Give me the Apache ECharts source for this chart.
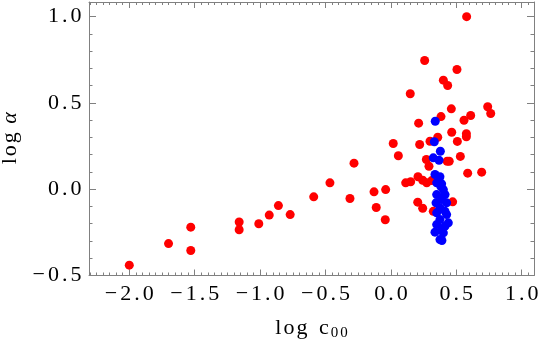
<!DOCTYPE html>
<html><head><meta charset="utf-8">
<script src="https://cdn.jsdelivr.net/npm/echarts@6/dist/echarts.min.js"></script>
<style>html,body{margin:0;padding:0;background:#fff}#c{width:540px;height:345px}</style>
</head><body><div id="c"></div>
<script>
// x = log c00, y = log alpha
const redX = [-2.00,-1.70,-1.53,-1.53,-1.16,-1.16,-1.01,-0.93,-0.86,-0.77,-0.59,-0.466,-0.282,-0.313,-0.129,-0.04,-0.112,-0.043,0.018,0.057,0.113,0.151,0.207,0.243,0.274,0.205,0.243,0.22,0.271,0.291,0.299,0.358,0.465,0.577,0.577,0.508,0.43,0.446,0.531,0.587,0.694,0.472,0.579,0.258,0.505,0.401,0.434,0.148,0.462,0.740,0.763,0.383,0.61,0.559,0.212,0.324,0.312];
const redY = [-0.44,-0.315,-0.22,-0.355,-0.19,-0.235,-0.20,-0.15,-0.095,-0.147,-0.044,0.037,0.151,-0.054,-0.015,-0.002,-0.106,-0.177,0.265,0.194,0.037,0.043,0.072,0.052,0.037,-0.075,-0.11,0.259,0.172,0.133,0.278,0.301,0.33,0.322,0.304,0.277,0.162,0.162,0.19,0.093,0.099,-0.073,1.0,0.746,0.694,0.632,0.601,0.553,0.466,0.478,0.439,0.421,0.427,0.40,0.383,-0.128,0.05];
const blueX = [0.339,0.332,0.378,0.324,0.368,0.337,0.375,0.388,0.350,0.381,0.401,0.350,0.414,0.388,0.345,0.426,0.375,0.414,0.350,0.426,0.375,0.439,0.350,0.414,0.388,0.337,0.401,0.375,0.39];
const blueY = [0.394,0.275,0.22,0.182,0.168,0.085,0.072,0.031,0.037,0.017,-0.002,-0.031,-0.031,-0.06,-0.079,-0.079,-0.108,-0.128,-0.137,-0.147,-0.176,-0.195,-0.205,-0.214,-0.234,-0.249,-0.253,-0.292,-0.297];
const xTickLabels = [-2.0,-1.5,-1.0,-0.5,0.0,0.5,1.0];
const yTickLabels = [-0.5,0.0,0.5,1.0];

const X_MIN = -2.308, X_MAX = 1.094, Y_MIN = -0.5, Y_MAX = 1.085;
function range(a, b, step) { const r = []; for (let v = a; v <= b + 1e-9; v += step) r.push(Math.round(v * 1000) / 1000); return r; }
const xMinor = range(-2.3, 1.05, 0.05).filter(v => !xTickLabels.some(m => Math.abs(m - v) < 1e-6));
const yMinor = range(-0.5, 1.0, 0.1).filter(v => !yTickLabels.some(m => Math.abs(m - v) < 1e-6));

const FRAME = '#808080';
const FONT = 'Liberation Serif';
const FS = 22;
function spaced(s, key) { return s.split('').map(c => c === ' ' ? '{sp| }' : '{' + key + '|' + c + '}').join(''); }
function fmt(v) { const s = (v < 0 ? '\u2212' : '') + Math.abs(v).toFixed(1); return spaced(s, 'd'); }
const digitRich = { d: { fontFamily: FONT, fontSize: FS, color: '#000', padding: [0, 1.5, 0, 1.5] } };

function axis(kind, pos, ticks, len, showLine, labels, extra) {
  const a = {
    type: 'value', position: pos, min: kind === 'x' ? X_MIN : Y_MIN, max: kind === 'x' ? X_MAX : Y_MAX,
    axisLine: { show: showLine, onZero: false, lineStyle: { color: FRAME, width: 1 } },
    axisTick: { show: true, inside: true, length: len, customValues: ticks, lineStyle: { color: FRAME, width: 1 } },
    axisLabel: labels ? { show: true, customValues: labels, formatter: fmt, rich: digitRich, margin: kind === 'x' ? 8 : 6 } : { show: false },
    splitLine: { show: false }
  };
  return Object.assign(a, extra || {});
}

const option = {
  animation: false,
  backgroundColor: '#fff',
  grid: { left: 89, right: 6, top: 2, bottom: 69.5, containLabel: false, outerBoundsMode: 'none' },
  xAxis: [
    axis('x', 'bottom', xTickLabels, 6, true, xTickLabels, {
      name: spaced('log c', 'a') + '{b|0}{b|0}', nameLocation: 'middle', nameGap: 40,
      nameTextStyle: { rich: {
        a: { fontFamily: FONT, fontSize: FS, color: '#000', padding: [0, 1, 0, 1] },
        sp: { fontFamily: FONT, fontSize: FS, padding: [0, 2, 0, 2] },
        b: { fontFamily: FONT, fontSize: 15, color: '#000', verticalAlign: 'bottom', padding: [10, 1, 0, 1] } } }
    }),
    axis('x', 'bottom', xMinor, 3, false, null),
    axis('x', 'top', xTickLabels, 6, true, null),
    axis('x', 'top', xMinor, 3, false, null)
  ],
  yAxis: [
    axis('y', 'left', yTickLabels, 7, true, yTickLabels, {
      name: spaced('log ', 'a') + '{i|\u03b1}', nameLocation: 'middle', nameGap: 65, nameRotate: 90,
      nameTextStyle: { rich: {
        a: { fontFamily: FONT, fontSize: FS, color: '#000', padding: [0, 1, 0, 1] },
        sp: { fontFamily: FONT, fontSize: FS, padding: [0, 1, 0, 1] },
        i: { fontFamily: FONT, fontSize: FS, fontStyle: 'italic', color: '#000' } } }
    }),
    axis('y', 'left', yMinor, 3.5, false, null),
    axis('y', 'right', yTickLabels, 7, true, null),
    axis('y', 'right', yMinor, 3.5, false, null)
  ],
  series: [
    { type: 'scatter', xAxisIndex: 0, yAxisIndex: 0, symbolSize: 9, itemStyle: { color: '#ff0000', opacity: 1 },
      data: redX.map((x, i) => [x, redY[i]]) },
    { type: 'scatter', xAxisIndex: 0, yAxisIndex: 0, symbolSize: 9, itemStyle: { color: '#0000ff', opacity: 1 },
      data: blueX.map((x, i) => [x, blueY[i]]) }
  ]
};
const chart = echarts.init(document.getElementById('c'), null, { renderer: 'canvas' });
chart.setOption(option);
</script></body></html>
